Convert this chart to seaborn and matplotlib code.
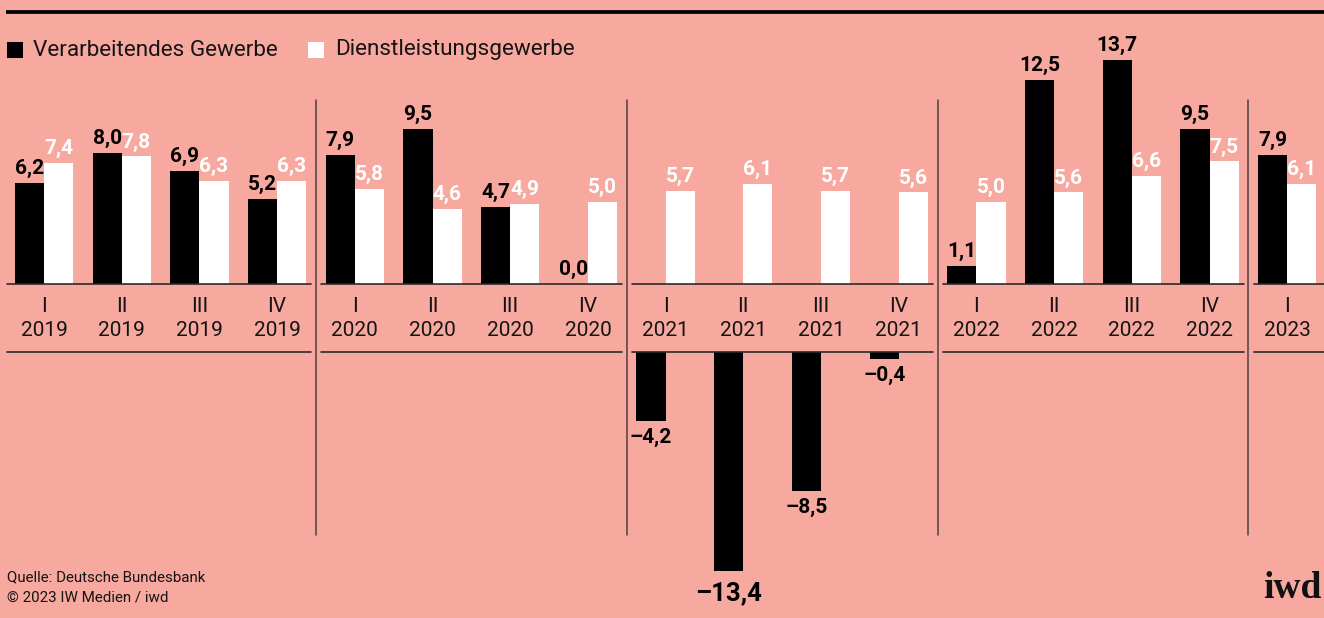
import matplotlib
matplotlib.use("Agg")
import matplotlib.pyplot as plt
import matplotlib.transforms as mtransforms
from matplotlib.lines import Line2D
from matplotlib.patches import Rectangle
import matplotlib.colors as mcolors
import seaborn as sns
import pandas as pd

# ---------------- data ----------------
quarters = ["I", "II", "III", "IV"] * 4 + ["I"]
years = ["2019"] * 4 + ["2020"] * 4 + ["2021"] * 4 + ["2022"] * 4 + ["2023"]
verarbeitendes = [6.2, 8.0, 6.9, 5.2, 7.9, 9.5, 4.7, 0.0, -4.2, -13.4, -8.5, -0.4,
                  1.1, 12.5, 13.7, 9.5, 7.9]
dienstleistung = [7.4, 7.8, 6.3, 6.3, 5.8, 4.6, 4.9, 5.0, 5.7, 6.1, 5.7, 5.6,
                  5.0, 5.6, 6.6, 7.5, 6.1]
series_names = ["Verarbeitendes Gewerbe", "Dienstleistungsgewerbe"]
series_colors = ["#000000", "#FFFFFF"]
source_lines = ["Quelle: Deutsche Bundesbank", "© 2023 IW Medien / iwd"]

# ---------------- style ----------------
BG = "#F8A99F"
TXT = "#141414"
sns.set_theme(style="white")
plt.rcParams["font.family"] = ["Roboto", "DejaVu Sans"]

W, H = 1324, 618
fig = plt.figure(figsize=(W / 100, H / 100), dpi=100, facecolor=BG)


def fy(px):
    return 1 - px / H


PX_PER_UNIT = 16.35
BASE_TOP = 284
BASE_BOT = 352
TOP_LIM = 14.6
BOT_LIM = -15.2
SLOT = 77.7
X0 = 44

ax_top = fig.add_axes([0, fy(BASE_TOP), 1, TOP_LIM * PX_PER_UNIT / H])
ax_bot = fig.add_axes([0, fy(BASE_BOT - BOT_LIM * PX_PER_UNIT), 1,
                       -BOT_LIM * PX_PER_UNIT / H])

cat_labels = [f"{q}\n{y}" for q, y in zip(quarters, years)]
df = pd.DataFrame({
    "Quartal": cat_labels * 2,
    "Sektor": [series_names[0]] * len(cat_labels) + [series_names[1]] * len(cat_labels),
    "Wert": verarbeitendes + dienstleistung,
})
palette = dict(zip(series_names, series_colors))

xlim = (-X0 / SLOT, (W - X0) / SLOT)
for ax, lim in [(ax_top, (0, TOP_LIM)), (ax_bot, (BOT_LIM, 0))]:
    sns.barplot(data=df, x="Quartal", y="Wert", hue="Sektor", order=cat_labels,
                hue_order=series_names, palette=palette, width=0.75,
                saturation=1, errorbar=None, legend=False, linewidth=0, ax=ax)
    ax.set_xlim(*xlim)
    ax.set_ylim(*lim)
    ax.set_axis_off()

values = [verarbeitendes, dienstleistung]


def fmt(v):
    s = f"{abs(v):.1f}".replace(".", ",")
    return ("–" + s) if v < 0 else s


# value labels
for patch in ax_top.patches:
    w = patch.get_width()
    if w == 0:
        continue
    cx = patch.get_x() + w / 2
    idx = int(round(cx))
    fc = mcolors.to_hex(patch.get_facecolor())
    si = 0 if fc == "#000000" else 1
    v = values[si][idx]
    col = "#000000" if si == 0 else "#FFFFFF"
    if v >= 0:
        ax_top.annotate(fmt(v), (cx, v), xytext=(0, 3.5), textcoords="offset points",
                        ha="center", va="bottom", color=col, fontsize=15,
                        fontweight="bold", annotation_clip=False)
    else:
        big = v < -12
        ax_bot.annotate(fmt(v), (cx, v), xytext=(0, -5 if not big else -7),
                        textcoords="offset points", ha="center", va="top",
                        color=col, fontsize=18.5 if big else 15,
                        fontweight="bold", annotation_clip=False)

trans = mtransforms.blended_transform_factory(ax_top.transData, fig.transFigure)

# year separators
for xs in [3.5, 7.5, 11.5, 15.5]:
    fig.add_artist(Line2D([xs, xs], [fy(100), fy(535)], transform=trans,
                          color="#4d4040", lw=1.1))

# baseline segments
starts = [-0.47, 3.57, 7.57, 11.57, 15.57]
ends = [3.44, 7.44, 11.44, 15.44, xlim[1]]
for ypx in [BASE_TOP, BASE_BOT]:
    for s, e in zip(starts, ends):
        fig.add_artist(Line2D([s, e], [fy(ypx), fy(ypx)], transform=trans,
                              color="#2a2a2a", lw=1.2))

# category labels
for i, (q, y) in enumerate(zip(quarters, years)):
    ax_top.text(i, fy(306), q, transform=trans, ha="center", va="center",
                fontsize=15, color=TXT)
    ax_top.text(i, fy(330), y, transform=trans, ha="center", va="center",
                fontsize=15, color=TXT)

# top rule
fig.add_artist(Line2D([6 / W, 1], [fy(11.5), fy(11.5)], transform=fig.transFigure,
                      color="#000000", lw=2.7, solid_capstyle="butt"))

# legend
leg_pos = [(7, 33), (308, 335)]
for (sx, tx), name, col in zip(leg_pos, series_names, series_colors):
    fig.add_artist(Rectangle((sx / W, fy(58)), 16 / W, 16 / H,
                             transform=fig.transFigure, facecolor=col,
                             edgecolor="none"))
    fig.text(tx / W, fy(50), name, ha="left", va="center", fontsize=16.2,
             color=TXT)

# footer
fig.text(7 / W, fy(577), source_lines[0], ha="left", va="center", fontsize=10.9,
         color=TXT)
fig.text(7 / W, fy(597), source_lines[1], ha="left", va="center", fontsize=10.9,
         color=TXT)
fig.text(1321 / W, fy(589), "iwd", ha="right", va="center", fontsize=27,
         fontweight="bold", family=["Liberation Serif", "DejaVu Serif"],
         color="#111111")

fig.savefig("out.png", dpi=100, facecolor=BG)
